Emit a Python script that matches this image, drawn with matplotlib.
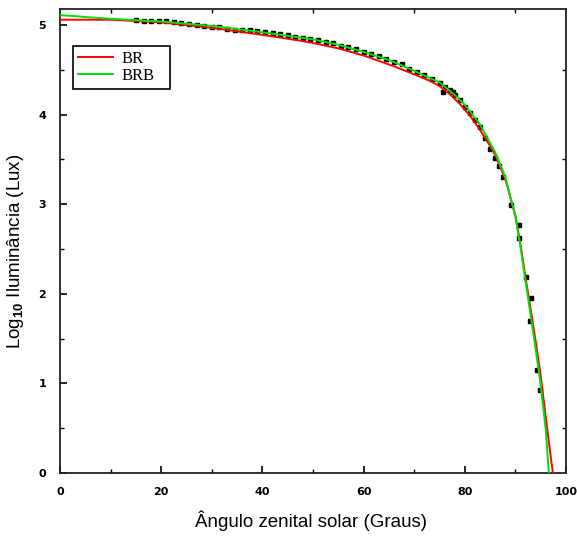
import matplotlib
matplotlib.use('Agg')
import matplotlib.pyplot as plt
import matplotlib.ticker as ticker

# curves
x_br = [0, 10, 20, 30, 40, 47, 50, 55, 60, 63, 66, 70, 73, 75, 77, 79, 81, 83,
        85, 86, 88, 90, 91, 92, 93, 94, 95, 96, 97, 97.4]
y_br = [5.06, 5.06, 5.03, 4.97, 4.89, 4.83, 4.80, 4.74, 4.66, 4.60, 4.54, 4.45,
        4.38, 4.32, 4.23, 4.12, 3.99, 3.83, 3.65, 3.55, 3.28, 2.87, 2.55, 2.18,
        1.83, 1.47, 1.08, 0.62, 0.17, 0.0]

x_brb = [0, 3, 5, 10, 20, 30, 40, 50, 55, 60, 65, 70, 73, 75, 78, 80, 83, 86,
         88, 90, 91, 92, 93, 94, 95, 96, 96.6]
y_brb = [5.11, 5.10, 5.09, 5.07, 5.04, 4.99, 4.92, 4.84, 4.78, 4.70, 4.61, 4.49,
         4.41, 4.36, 4.22, 4.11, 3.89, 3.58, 3.30, 2.86, 2.52, 2.14, 1.76, 1.38,
         0.98, 0.48, 0.0]

# measured points
x_obs = [15, 16.5, 18, 19.5, 21, 22.5, 24, 25.5, 27, 28.5, 30, 31.5, 33, 34.5,
         36, 37.5, 39, 40.5, 42, 43.5, 45, 46.5, 48, 49.5, 51, 52.5, 54, 55.5,
         57, 58.5, 60, 61.5, 63, 64.5, 66, 67.5, 69, 70.5, 72, 73.5, 75, 75.6,
         76, 77, 77.6, 78, 79, 80, 81, 82, 83, 84, 85, 86, 86.8, 87.5, 89.1,
         90.7, 90.7, 92.0, 93.0, 92.8, 94.3, 94.8]
y_obs = [5.06, 5.05, 5.05, 5.04, 5.04, 5.03, 5.02, 5.01, 5.00, 4.99, 4.98, 4.98,
         4.96, 4.95, 4.95, 4.94, 4.93, 4.92, 4.91, 4.90, 4.89, 4.87, 4.86, 4.85,
         4.83, 4.81, 4.80, 4.77, 4.75, 4.73, 4.70, 4.68, 4.65, 4.62, 4.59, 4.56,
         4.51, 4.48, 4.44, 4.40, 4.35, 4.25, 4.31, 4.27, 4.25, 4.22, 4.16, 4.09,
         4.02, 3.94, 3.86, 3.74, 3.62, 3.52, 3.43, 3.30, 2.99, 2.77, 2.62, 2.19,
         1.95, 1.70, 1.15, 0.93]

plt.rcParams['mathtext.fontset'] = 'custom'
plt.rcParams['mathtext.rm'] = 'Liberation Sans'
plt.rcParams['mathtext.bf'] = 'Liberation Sans:bold'

fig = plt.figure(figsize=(5.77, 5.39), dpi=100)
ax = fig.add_axes([0.104, 0.1224, 0.877, 0.861])

ax.plot(x_obs, y_obs, linestyle='none', marker='s', markersize=3.2,
        color='black', zorder=2)
ax.plot(x_br, y_br, color='#ff0000', linewidth=1.4, label='BR', zorder=3)
ax.plot(x_brb, y_brb, color='#00e000', linewidth=1.4, label='BRB', zorder=3)

ax.set_xlim(0, 100)
ax.set_ylim(0, 5.18)
ax.xaxis.set_major_locator(ticker.MultipleLocator(20))
ax.xaxis.set_minor_locator(ticker.MultipleLocator(10))
ax.yaxis.set_major_locator(ticker.MultipleLocator(1))
ax.yaxis.set_minor_locator(ticker.MultipleLocator(0.5))
ax.tick_params(which='major', direction='in', length=5, width=1.2,
               labelsize=8, pad=10, top=False, right=False)
ax.tick_params(which='minor', direction='in', length=3, width=1.0,
               top=True, right=True)
for lab in ax.get_xticklabels() + ax.get_yticklabels():
    lab.set_fontweight('bold')
for s in ax.spines.values():
    s.set_linewidth(1.3)
    s.set_color('#222222')

ax.set_ylabel(r'Log$_{\mathbf{10}}$ Iluminância (Lux)', family='Liberation Sans',
              fontsize=13.5)
ax.yaxis.set_label_coords(-0.068, 0.478)
ax.set_xlabel('Ângulo zenital solar (Graus)', family='Liberation Sans',
              fontsize=13.5)
ax.xaxis.set_label_coords(0.496, -0.08)

# legend box stretched to the width seen in the original
leg = ax.legend(loc='upper left', bbox_to_anchor=(0.026, 0.826, 0.192, 0.095),
                mode='expand', borderaxespad=0, fancybox=False,
                edgecolor='black', framealpha=1,
                prop={'family': 'Liberation Serif', 'size': 12},
                handlelength=2.1, handletextpad=0.5, borderpad=0.3,
                labelspacing=0.1)
leg.get_frame().set_linewidth(1.2)

fig.savefig('out.png', dpi=100)
